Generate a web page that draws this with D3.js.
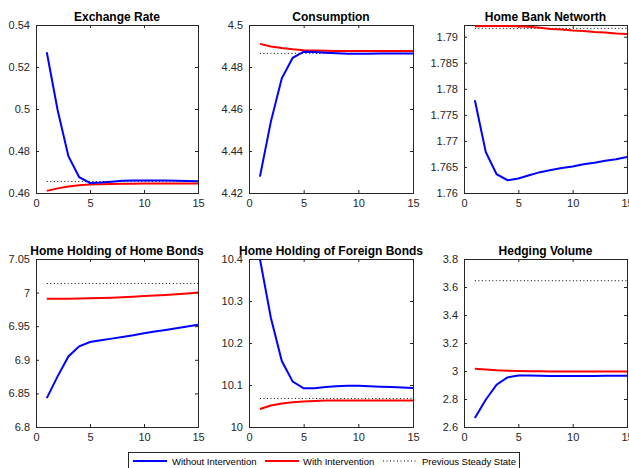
<!DOCTYPE html>
<html><head><meta charset="utf-8">
<script src="https://cdn.jsdelivr.net/npm/d3@7"></script>
<style>
html,body{margin:0;padding:0;background:#fff;}
svg{display:block;font-family:"Liberation Sans",Arial,Helvetica,sans-serif;}
</style></head>
<body><svg id="c" width="629" height="468"></svg>
<script>
// ---- data ----
const periods = [1,2,3,4,5,6,7,8,9,10,11,12,13,14,15];
const xTicks = [0,5,10,15];
const titles = ["Exchange Rate","Consumption","Home Bank Networth","Home Holding of Home Bonds","Home Holding of Foreign Bonds","Hedging Volume"];
const seriesNames = ["Without Intervention","With Intervention","Previous Steady State"];

const exchangeWithout = [0.527,0.4995,0.4775,0.4675,0.4648,0.4650,0.4654,0.4658,0.4660,0.4660,0.4660,0.4659,0.4658,0.4657,0.4656];
const exchangeWith    = [0.4610,0.4622,0.4631,0.4637,0.4640,0.4642,0.4643,0.4644,0.4644,0.4645,0.4645,0.4645,0.4645,0.4645,0.4645];
const exchangeSteady  = 0.4655;
const exchangeTicks   = [0.46,0.48,0.5,0.52,0.54];

const consWithout = [4.4278,4.4540,4.4746,4.4844,4.4873,4.4872,4.4868,4.4865,4.4863,4.4863,4.4863,4.4864,4.4864,4.4864,4.4864];
const consWith    = [4.4910,4.4898,4.4890,4.4884,4.4880,4.4878,4.4877,4.4876,4.4876,4.4876,4.4876,4.4876,4.4876,4.4876,4.4876];
const consSteady  = 4.4865;
const consTicks   = [4.42,4.44,4.46,4.48,4.5];

const netWithout = [1.7778,1.7679,1.7636,1.76245,1.7628,1.7634,1.7640,1.7644,1.7648,1.7651,1.7655,1.7658,1.7662,1.7665,1.7669];
const netWith    = [1.7920,1.79205,1.79205,1.79205,1.7920,1.7919,1.7917,1.7915,1.7914,1.7912,1.7911,1.7909,1.7908,1.7906,1.7905];
const netSteady  = 1.7916;
const netTicks   = [1.76,1.765,1.77,1.775,1.78,1.785,1.79];

const homeBondWithout = [6.843,6.8753,6.905,6.920,6.9265,6.929,6.9315,6.934,6.9365,6.9395,6.942,6.9445,6.947,6.9495,6.952];
const homeBondWith    = [6.991,6.991,6.991,6.9912,6.9915,6.9920,6.9925,6.9932,6.9940,6.9948,6.9956,6.9966,6.9976,6.9988,7.0000];
const homeBondSteady  = 7.0135;
const homeBondTicks   = [6.8,6.85,6.9,6.95,7,7.05];

const forBondWithout = [10.400,10.260,10.157,10.108,10.092,10.092,10.095,10.097,10.098,10.098,10.097,10.096,10.095,10.094,10.093];
const forBondWith    = [10.043,10.051,10.056,10.059,10.061,10.062,10.063,10.063,10.063,10.063,10.063,10.063,10.063,10.063,10.063];
const forBondSteady  = 10.068;
const forBondTicks   = [10,10.1,10.2,10.3,10.4];

const hedgeWithout = [2.664,2.795,2.902,2.954,2.968,2.968,2.966,2.965,2.965,2.965,2.965,2.965,2.966,2.966,2.966];
const hedgeWith    = [3.016,3.010,3.005,3.002,3.000,2.999,2.998,2.997,2.997,2.997,2.997,2.997,2.997,2.997,2.997];
const hedgeSteady  = 3.645;
const hedgeTicks   = [2.6,2.8,3,3.2,3.4,3.6,3.8];

// ---- layout ----
const panels = [
  {title:titles[0], a:exchangeWithout, b:exchangeWith, s:exchangeSteady, ticks:exchangeTicks, dom:[0.46,0.54], x0:36, x1:198, y0:25, y1:193},
  {title:titles[1], a:consWithout, b:consWith, s:consSteady, ticks:consTicks, dom:[4.42,4.5], x0:249, x1:413, y0:25, y1:193},
  {title:titles[2], a:netWithout, b:netWith, s:netSteady, ticks:netTicks, dom:[1.76,1.79225], x0:464, x1:627, y0:25, y1:193},
  {title:titles[3], a:homeBondWithout, b:homeBondWith, s:homeBondSteady, ticks:homeBondTicks, dom:[6.8,7.05], x0:36, x1:198, y0:259, y1:427},
  {title:titles[4], a:forBondWithout, b:forBondWith, s:forBondSteady, ticks:forBondTicks, dom:[10,10.4], x0:249, x1:413, y0:259, y1:427},
  {title:titles[5], a:hedgeWithout, b:hedgeWith, s:hedgeSteady, ticks:hedgeTicks, dom:[2.6,3.8], x0:464, x1:627, y0:259, y1:427}
];

const svg = d3.select("#c");
const axisColor = "#262626";
const fmt = v => String(+v.toFixed(4));

panels.forEach((p,i) => {
  const x = d3.scaleLinear().domain([0,15]).range([p.x0,p.x1]);
  const y = d3.scaleLinear().domain(p.dom).range([p.y1,p.y0]);
  const g = svg.append("g");
  const clipId = "clip"+i;
  svg.append("clipPath").attr("id",clipId).append("rect")
    .attr("x",p.x0).attr("y",p.y0-1).attr("width",p.x1-p.x0).attr("height",p.y1-p.y0+2);

  // axes with inward ticks on all 4 sides
  const bottom = d3.axisBottom(x).tickValues(xTicks).tickSize(-3).tickPadding(6).tickFormat(d3.format("d"));
  const top = d3.axisTop(x).tickValues(xTicks).tickSize(-3).tickFormat("");
  const left = d3.axisLeft(y).tickValues(p.ticks).tickSize(-3).tickPadding(6).tickFormat(fmt);
  const right = d3.axisRight(y).tickValues(p.ticks).tickSize(-3).tickFormat("");
  const style = sel => {
    sel.selectAll("path.domain").attr("stroke",axisColor).attr("stroke-width",1);
    sel.selectAll(".tick line").attr("stroke",axisColor);
    sel.selectAll("text").attr("fill",axisColor).style("font-size","11px").style("font-family","'Liberation Sans',Arial,sans-serif");
  };
  g.append("g").attr("transform",`translate(0,${p.y1})`).call(bottom).call(style);
  g.append("g").attr("transform",`translate(0,${p.y0})`).call(top).call(style);
  g.append("g").attr("transform",`translate(${p.x0},0)`).call(left).call(style);
  g.append("g").attr("transform",`translate(${p.x1},0)`).call(right).call(style);

  const line = d3.line().x((d,k)=>x(periods[k])).y(d=>y(d));
  const lg = svg.append("g").attr("clip-path",`url(#${clipId})`);
  lg.append("path").datum(periods.map(()=>p.s)).attr("d",line)
    .attr("fill","none").attr("stroke","#000").attr("stroke-width",1).attr("stroke-dasharray","1,2.5");
  lg.append("path").datum(p.b).attr("d",line)
    .attr("fill","none").attr("stroke","#ff0000").attr("stroke-width",2);
  lg.append("path").datum(p.a).attr("d",line)
    .attr("fill","none").attr("stroke","#0000ff").attr("stroke-width",2);

  svg.append("text").attr("x",(p.x0+p.x1)/2).attr("y",p.y0-4)
    .attr("text-anchor","middle").style("font-size","12px").style("font-weight","bold")
    .attr("fill","#000").text(p.title);
});

// ---- legend ----
const leg = svg.append("g");
leg.append("rect").attr("x",128.5).attr("y",452.5).attr("width",391).attr("height",20)
  .attr("fill","#fff").attr("stroke",axisColor).attr("stroke-width",1);
const legItems = [
  {name:seriesNames[0], color:"#0000ff", w:2, dash:null, lx:133, tx:172},
  {name:seriesNames[1], color:"#ff0000", w:2, dash:null, lx:265, tx:303},
  {name:seriesNames[2], color:"#000", w:1, dash:"1,2.5", lx:383, tx:422}
];
legItems.forEach(it => {
  leg.append("line").attr("x1",it.lx).attr("x2",it.lx+34).attr("y1",461).attr("y2",461)
    .attr("stroke",it.color).attr("stroke-width",it.w).attr("stroke-dasharray",it.dash);
  leg.append("text").attr("x",it.tx).attr("y",464.5).style("font-size","9.5px")
    .attr("fill","#000").text(it.name);
});
</script></body></html>
